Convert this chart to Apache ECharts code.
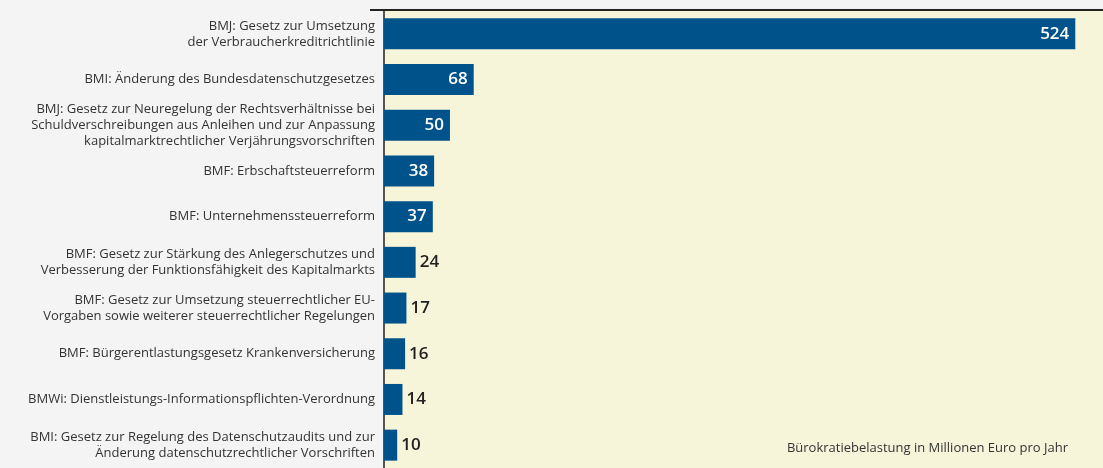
<!DOCTYPE html>
<html>
<head>
<meta charset="utf-8">
<script src="https://cdn.jsdelivr.net/npm/echarts@6/dist/echarts.min.js"></script>
<style>
html, body { margin: 0; padding: 0; background: #f4f4f4; overflow: hidden; }
#chart { width: 1103px; height: 468px; }
</style>
</head>
<body>
<div id="chart"></div>
<script>
// Bürokratiebelastung je Vorhaben
const categories = [
  'BMJ: Gesetz zur Umsetzung\nder Verbraucherkreditrichtlinie',
  'BMI: Änderung des Bundesdatenschutzgesetzes',
  'BMJ: Gesetz zur Neuregelung der Rechtsverhältnisse bei\nSchuldverschreibungen aus Anleihen und zur Anpassung\nkapitalmarktrechtlicher Verjährungsvorschriften',
  'BMF: Erbschaftsteuerreform',
  'BMF: Unternehmenssteuerreform',
  'BMF: Gesetz zur Stärkung des Anlegerschutzes und\nVerbesserung der Funktionsfähigkeit des Kapitalmarkts',
  'BMF: Gesetz zur Umsetzung steuerrechtlicher EU-\nVorgaben sowie weiterer steuerrechtlicher Regelungen',
  'BMF: Bürgerentlastungsgesetz Krankenversicherung',
  'BMWi: Dienstleistungs-Informationspflichten-Verordnung',
  'BMI: Gesetz zur Regelung des Datenschutzaudits und zur\nÄnderung datenschutzrechtlicher Vorschriften'
];
const values = [524, 68, 50, 38, 37, 24, 17, 16, 14, 10];
const axisTitle = 'Bürokratiebelastung in Millionen Euro pro Jahr';

const insideLimit = 30; // kleinere Werte stehen neben dem Balken

let myChart = echarts.init(document.getElementById('chart'));

const seriesData = values.map(v => ({
  value: v,
  label: v >= insideLimit
    ? { position: 'insideRight', color: '#ffffff', distance: 6 }
    : { position: 'right', color: '#222222', distance: 4 }
}));

const option = {
  backgroundColor: '#f4f4f4',
  animation: false,
  grid: {
    left: 384,
    width: 719,
    top: 11,
    height: 461,
    show: true,
    backgroundColor: '#f7f5d9',
    borderWidth: 0
  },
  title: {
    text: axisTitle,
    right: 30,
    bottom: 8,
    textStyle: {
      fontFamily: 'Open Sans',
      fontSize: 13,
      fontWeight: 'normal',
      color: '#333333'
    }
  },
  xAxis: {
    type: 'value',
    min: 0,
    max: 545,
    show: false
  },
  yAxis: {
    type: 'category',
    inverse: true,
    data: categories,
    axisLine: { show: true, lineStyle: { color: '#222222', width: 1.5 } },
    axisTick: { show: false },
    axisLabel: {
      align: 'right',
      margin: 9,
      fontFamily: 'Open Sans',
      fontSize: 13,
      lineHeight: 16,
      color: '#333333'
    }
  },
  graphic: [{
    type: 'rect',
    z: 100,
    shape: { x: 370, y: 9, width: 733, height: 2 },
    style: { fill: '#222222' }
  }],
  series: [{
    type: 'bar',
    data: seriesData,
    barWidth: 31,
    itemStyle: { color: '#00538a' },
    label: {
      show: true,
      fontFamily: 'Open Sans',
      fontSize: 17,
      fontWeight: 600
    }
  }]
};

myChart.setOption(option);
window.addEventListener('resize', function () {
  myChart.resize();
});
</script>
</body>
</html>
